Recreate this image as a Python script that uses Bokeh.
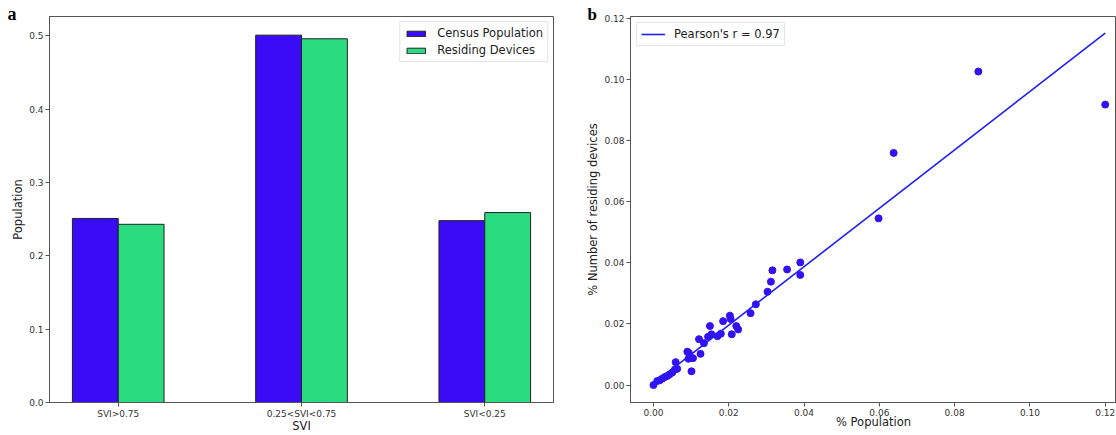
from bokeh.plotting import figure
from bokeh.layouts import row
from bokeh.models import (Range1d, FixedTicker, PrintfTickFormatter, Legend,
                          LegendItem, Title, ColumnDataSource)
from bokeh.transform import dodge
from bokeh.embed import file_html
from bokeh.resources import INLINE

# ---------------- data ----------------
categories = ["SVI>0.75", "0.25<SVI<0.75", "SVI<0.25"]
census_population = [0.251, 0.501, 0.248]
residing_devices = [0.243, 0.496, 0.259]
bar_y_ticks = [0.0, 0.1, 0.2, 0.3, 0.4, 0.5]

pct_population = [0.0, 0.0010, 0.0017, 0.0023, 0.0030, 0.0037, 0.0043, 0.0050,
                  0.0057, 0.0063, 0.0059, 0.0090, 0.0094, 0.0093, 0.0105, 0.0101,
                  0.0125, 0.0121, 0.0134, 0.0145, 0.0150, 0.0154, 0.0170, 0.0179,
                  0.0185, 0.0203, 0.0205, 0.0208, 0.0220, 0.0225, 0.0258, 0.0272,
                  0.0303, 0.0312, 0.0316, 0.0355, 0.0390, 0.0390, 0.0598, 0.0638,
                  0.0863, 0.1200]
pct_devices = [0.0, 0.0013, 0.0016, 0.0021, 0.0026, 0.0030, 0.0035, 0.0041,
               0.0051, 0.0053, 0.0075, 0.0109, 0.0105, 0.0086, 0.0088, 0.0045,
               0.0102, 0.0150, 0.0137, 0.0158, 0.0193, 0.0166, 0.0160, 0.0168,
               0.0209, 0.0227, 0.0216, 0.0166, 0.0193, 0.0182, 0.0235, 0.0264,
               0.0305, 0.0338, 0.0375, 0.0378, 0.0401, 0.0360, 0.0545, 0.0759,
               0.1025, 0.0917]
fit_x = [0.0, 0.12]
fit_y = [0.0005, 0.1151]
scatter_ticks = [0.0, 0.02, 0.04, 0.06, 0.08, 0.10, 0.12]
pearson_label = "Pearson's r = 0.97"

BLUE = "#3a0cf5"
GREEN = "#2adb80"
FRAME = "#555555"
FONT = "DejaVu Sans"


def style(p, x_label_standoff):
    p.xgrid.visible = False
    p.ygrid.visible = False
    p.outline_line_color = FRAME
    p.outline_line_alpha = 1.0
    p.background_fill_color = "white"
    p.border_fill_color = "white"
    for ax in [p.xaxis[0], p.yaxis[0]]:
        ax.axis_line_color = FRAME
        ax.major_tick_line_color = FRAME
        ax.major_tick_out = 4
        ax.major_tick_in = 0
        ax.minor_tick_line_color = None
        ax.major_label_text_font = FONT
        ax.major_label_text_font_size = "9px"
        ax.major_label_text_color = "#333333"
        ax.major_label_text_line_height = 0.9
        ax.major_label_standoff = 2
        ax.axis_label_text_font = FONT
        ax.axis_label_text_font_size = "11.5px"
        ax.axis_label_text_font_style = "normal"
        ax.axis_label_text_color = "#222222"
        ax.axis_label_text_line_height = 0.9
    p.xaxis[0].axis_label_standoff = x_label_standoff


def panel_letter(text, offset, size):
    return Title(text=text, align="left", offset=offset, standoff=-14,
                 text_font="Liberation Serif", text_font_style="bold",
                 text_font_size=size, text_color="black",
                 text_line_height=0.8)


# ---------------- panel a ----------------
src = ColumnDataSource(dict(pos=list(range(len(categories))),
                            census=census_population,
                            devices=residing_devices))

pa = figure(width=560, height=435, x_range=Range1d(-0.375, 2.375),
            y_range=Range1d(0, 0.5264), output_backend="svg",
            toolbar_location=None, min_border_left=49, min_border_right=7,
            min_border_top=15, min_border_bottom=28)
r1 = pa.vbar(x=dodge("pos", -0.125), top="census", width=0.25, source=src,
             fill_color=BLUE, line_color="#222222", line_width=1)
r2 = pa.vbar(x=dodge("pos", 0.125), top="devices", width=0.25, source=src,
             fill_color=GREEN, line_color="#222222", line_width=1)
style(pa, -3)
pa.xaxis.ticker = FixedTicker(ticks=list(range(len(categories))))
pa.xaxis.major_label_overrides = {i: c for i, c in enumerate(categories)}
pa.yaxis.ticker = FixedTicker(ticks=bar_y_ticks)
pa.yaxis.formatter = PrintfTickFormatter(format="%.1f")
pa.xaxis.axis_label = "SVI"
pa.yaxis.axis_label = "Population"
pa.yaxis.axis_label_standoff = 1

leg_a = Legend(items=[LegendItem(label="Census Population", renderers=[r1]),
                      LegendItem(label="Residing Devices", renderers=[r2])],
               location="top_right", margin=5, padding=4, spacing=3,
               glyph_width=23, glyph_height=7, label_height=14,
               label_standoff=10, label_text_font=FONT,
               label_text_font_size="11.5px", label_text_color="#222222",
               border_line_color="#cccccc", background_fill_alpha=1.0)
pa.add_layout(leg_a)
pa.add_layout(panel_letter("a", -42, "18px"), "above")

# ---------------- panel b ----------------
pb = figure(width=556, height=435, x_range=Range1d(-0.0061, 0.123),
            y_range=Range1d(-0.0057, 0.1205), output_backend="svg",
            toolbar_location=None, min_border_left=70, min_border_right=0,
            min_border_top=16, min_border_bottom=31)
pb.scatter(pct_population, pct_devices, size=7, fill_color="#3311f0",
           line_color="#3311f0")
line_r = pb.line(fit_x, fit_y, line_color="#1f1ff5", line_width=1.6)
style(pb, -4)
pb.xaxis.ticker = FixedTicker(ticks=scatter_ticks)
pb.yaxis.ticker = FixedTicker(ticks=scatter_ticks)
pb.xaxis.formatter = PrintfTickFormatter(format="%.2f")
pb.yaxis.formatter = PrintfTickFormatter(format="%.2f")
pb.xaxis.axis_label = "% Population"
pb.yaxis.axis_label = "% Number of residing devices"
pb.yaxis.axis_label_standoff = 1

leg_b = Legend(items=[LegendItem(label=pearson_label, renderers=[line_r])],
               location="top_left", margin=6, padding=4, glyph_width=24,
               glyph_height=12, label_height=13, label_standoff=9,
               label_text_font=FONT, label_text_font_size="11.5px",
               label_text_color="#222222", border_line_color="#cccccc")
pb.add_layout(leg_b)
pb.add_layout(panel_letter("b", -43, "17px"), "above")

layout = row(pa, pb)
open("out.html", "w").write(file_html(layout, INLINE))
